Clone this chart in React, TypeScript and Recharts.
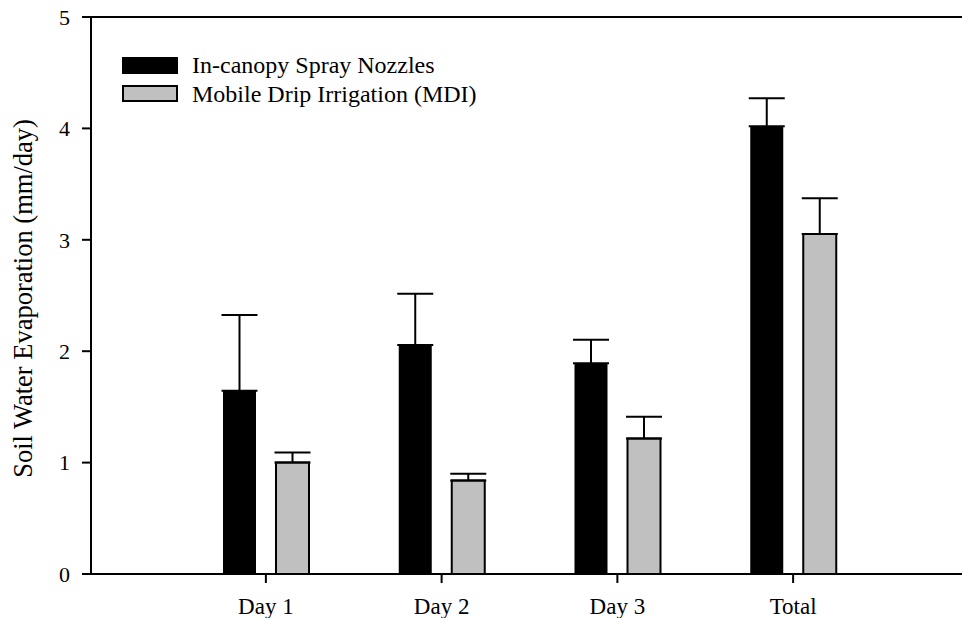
import React from 'react';
import { BarChart, Bar, XAxis, YAxis, ErrorBar, ReferenceLine } from 'recharts';

// valores (mm/dia)
const categories = ['Day 1', 'Day 2', 'Day 3', 'Total'];
const sprayValues = [1.645, 2.056, 1.892, 4.02];
const sprayErrors = [0.68, 0.46, 0.21, 0.25];
const mdiValues = [1.0, 0.84, 1.216, 3.052];
const mdiErrors = [0.09, 0.06, 0.195, 0.32];
const yTicks = [0, 1, 2, 3, 4, 5];

const seriesNames = ['In-canopy Spray Nozzles', 'Mobile Drip Irrigation (MDI)'];

const FONT = '"Liberation Serif", "Times New Roman", serif';

const data = categories.map((name, i) => ({
  name,
  spray: sprayValues[i],
  sprayErr: [0, sprayErrors[i]],
  mdi: mdiValues[i],
  mdiErr: [0, mdiErrors[i]],
}));

const YLabel = ({ viewBox }: any) => {
  const cx = 22.5;
  const cy = viewBox.y + viewBox.height / 2 + 3;
  return (
    <text
      x={cx}
      y={cy}
      transform={`rotate(-90 ${cx} ${cy})`}
      textAnchor="middle"
      dominantBaseline="central"
      fontFamily={FONT}
      fontSize={26.5}
      fill="#000"
    >
      Soil Water Evaporation (mm/day)
    </text>
  );
};

// legenda desenhada fora do recharts para não roubar espaço do gráfico
const LegendBox = () => (
  <div
    style={{
      position: 'absolute',
      left: 122,
      top: 51,
      fontFamily: FONT,
      fontSize: 24,
      color: '#000',
    }}
  >
    {[
      { name: seriesNames[0], fill: '#000' },
      { name: seriesNames[1], fill: '#c0c0c0' },
    ].map((item) => (
      <div key={item.name} style={{ display: 'flex', alignItems: 'center', height: 28.5 }}>
        <div
          style={{
            width: 52,
            height: 13,
            background: item.fill,
            border: '2px solid #000',
            marginRight: 14,
          }}
        />
        <span style={{ lineHeight: '28px' }}>{item.name}</span>
      </div>
    ))}
  </div>
);

export default function App() {
  return (
    <div
      style={{
        position: 'absolute',
        left: 0,
        top: 0,
        width: 962,
        height: 618,
        overflow: 'hidden',
        background: '#fff',
      }}
    >
      <BarChart
        width={980}
        height={618}
        data={data}
        margin={{ top: 17, right: 12, bottom: 0, left: 0 }}
        barSize={33}
        barGap={20}
      >
        <XAxis
          dataKey="name"
          height={44}
          padding={{ left: 87, right: 87 }}
          axisLine={{ stroke: '#000', strokeWidth: 2 }}
          tickLine={{ stroke: '#000', strokeWidth: 2 }}
          tickSize={9}
          tickMargin={15}
          tick={{ fill: '#000', fontSize: 23, fontFamily: FONT }}
        />
        <YAxis
          width={91}
          domain={[0, 5]}
          ticks={yTicks}
          allowDataOverflow
          axisLine={{ stroke: '#000', strokeWidth: 2 }}
          tickLine={{ stroke: '#000', strokeWidth: 2 }}
          tickSize={9}
          tickMargin={12}
          tick={{ fill: '#000', fontSize: 22, fontFamily: FONT }}
          label={<YLabel />}
        />
        <ReferenceLine y={5} stroke="#000" strokeWidth={2} />
        <Bar dataKey="spray" name={seriesNames[0]} fill="#000" isAnimationActive={false}>
          <ErrorBar dataKey="sprayErr" width={18} stroke="#000" strokeWidth={2} direction="y" />
        </Bar>
        <Bar
          dataKey="mdi"
          name={seriesNames[1]}
          fill="#c0c0c0"
          stroke="#000"
          strokeWidth={2}
          isAnimationActive={false}
        >
          <ErrorBar dataKey="mdiErr" width={18} stroke="#000" strokeWidth={2} direction="y" />
        </Bar>
      </BarChart>
      <LegendBox />
    </div>
  );
}
